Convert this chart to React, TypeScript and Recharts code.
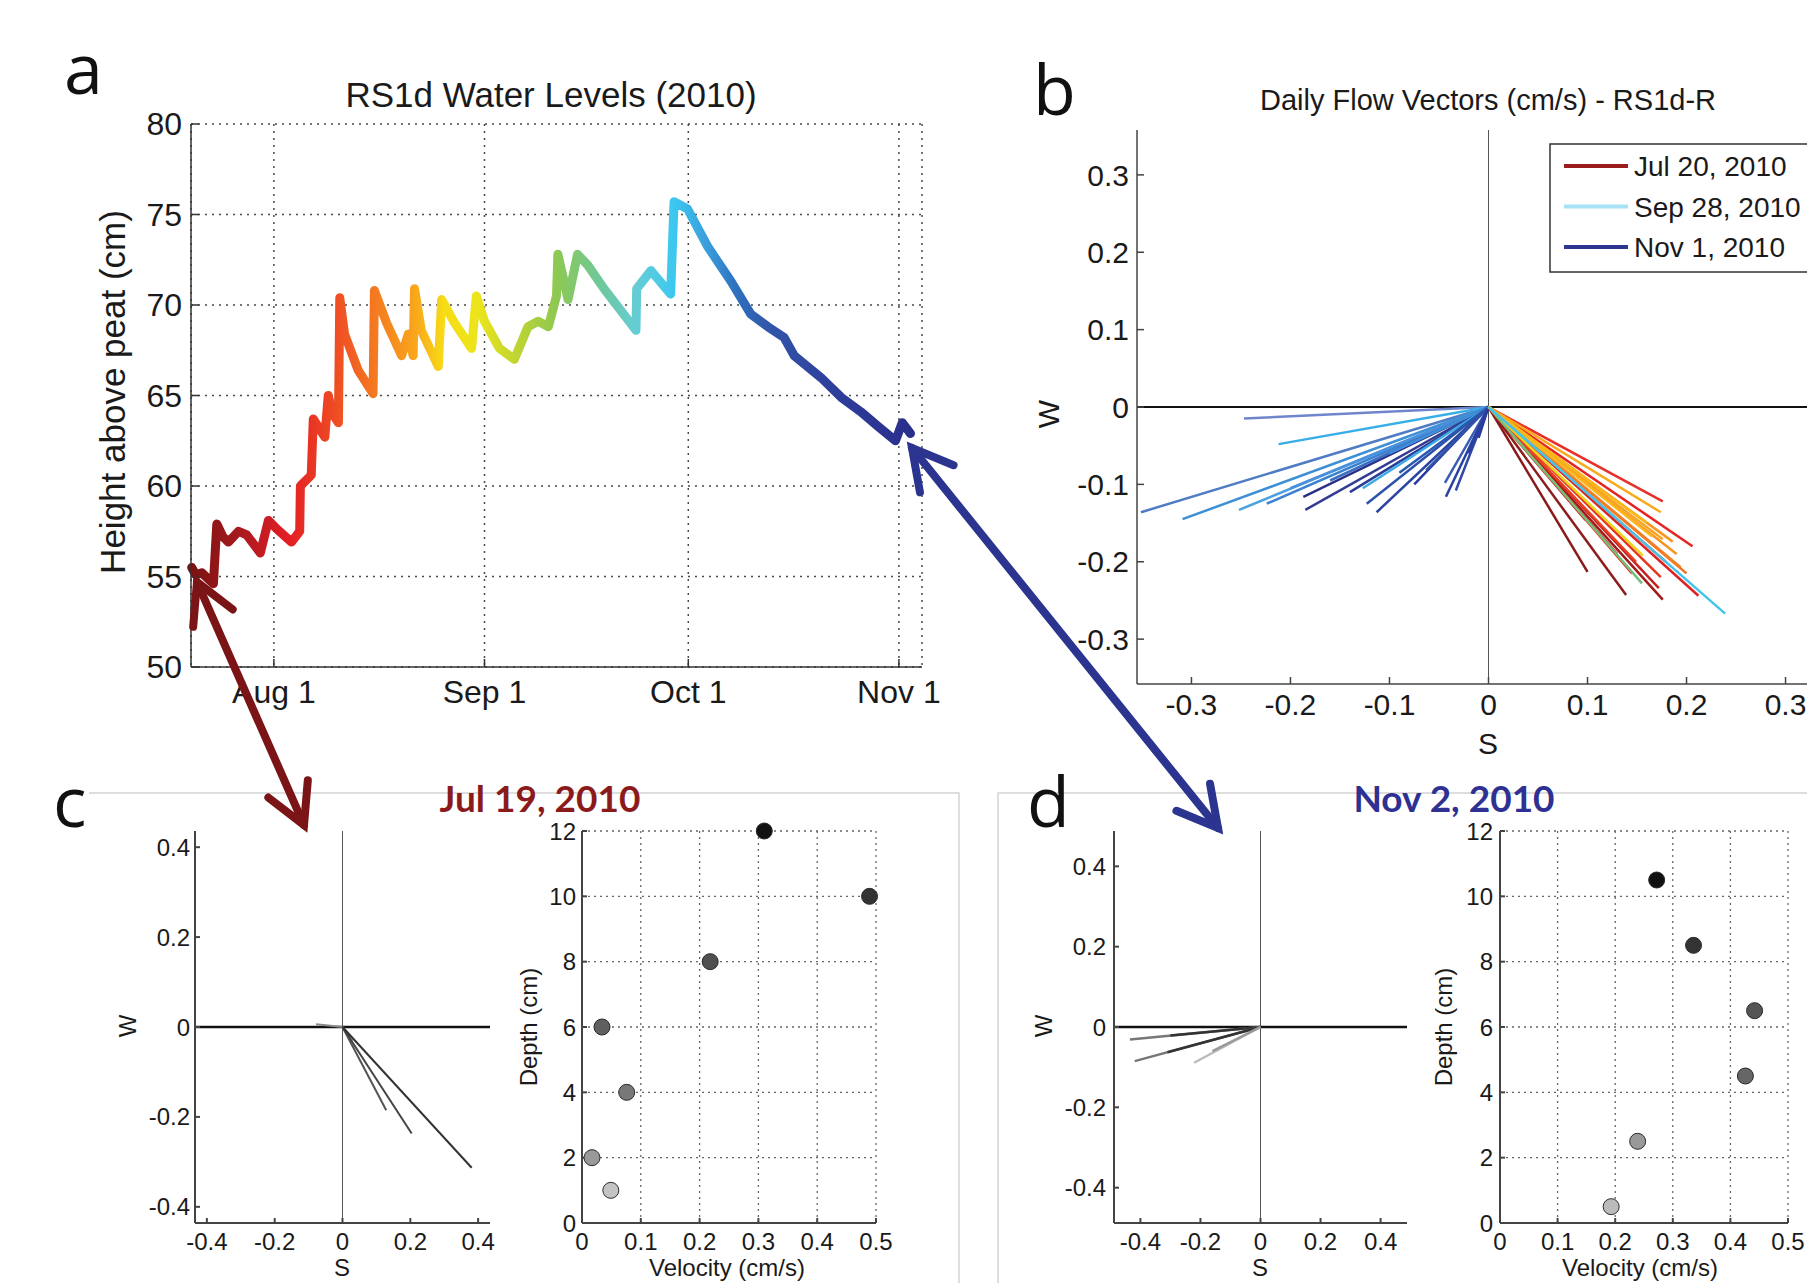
import React from 'react';
import {
  LineChart,
  Line,
  ScatterChart,
  Scatter,
  XAxis,
  YAxis,
  CartesianGrid,
  ReferenceLine,
  Cell,
} from 'recharts';

// ---- panel a: water level, days counted from Aug 1 ----
const levelDays = [
  -12.1, -11.5, -10.6, -8.9, -8.4, -7.5, -6.7, -5.2, -4.0, -2.0,
  -0.8, 0.5, 2.6, 3.8, 3.9, 5.5, 5.8, 7.0, 7.5, 8.0,
  8.6, 9.5, 9.7, 10.4, 12.4, 14.6, 14.8, 16.6, 18.8, 19.8,
  20.5, 20.7, 21.7, 24.2, 24.7, 26.6, 29.1, 29.8, 31.0, 33.2,
  35.4, 37.4, 38.9, 40.4, 41.6, 41.8, 42.6, 43.3, 44.7, 46.2,
  48.6, 53.3, 53.4, 55.5, 58.4, 58.9, 60.9, 63.9, 67.3, 70.2,
  72.7, 75.1, 76.6, 80.5, 83.5, 86.4, 88.9, 91.5, 92.5, 93.7,
];
const levelValues = [
  55.5, 55.1, 55.2, 54.6, 57.9, 57.2, 56.9, 57.5, 57.3, 56.3,
  58.1, 57.6, 56.9, 57.5, 60.0, 60.6, 63.7, 63.0, 62.7, 65.0,
  64.0, 63.5, 70.4, 68.4, 66.4, 65.1, 70.8, 69.0, 67.2, 68.4,
  67.2, 70.9, 68.6, 66.6, 70.3, 69.0, 67.6, 70.5, 69.1, 67.6,
  67.0, 68.8, 69.1, 68.8, 70.5, 72.8, 71.5, 70.3, 72.8, 72.2,
  70.9, 68.6, 70.9, 71.9, 70.6, 75.7, 75.3, 73.2, 71.3, 69.5,
  68.8, 68.2, 67.2, 66.0, 64.9, 64.1, 63.3, 62.5, 63.5, 62.9,
];
const monthTicks = [0, 31, 61, 92];
const monthLabels = ['Aug 1', 'Sep 1', 'Oct 1', 'Nov 1'];
const levelTicks = [50, 55, 60, 65, 70, 75, 80];

// colour of the trace by date (jet, reversed)
const jetStopDays = [-12.1, -5, 2, 9, 14.8, 20.7, 25, 30, 35, 41.8, 48.6, 53.3, 58.9, 64, 68, 73, 82, 93.7];
const jetStopColors = [
  '#7a1212', '#a81a1e', '#e31e25', '#ef4b24', '#f47920', '#f9a51b', '#f7dc16', '#ece51b', '#c5d62e',
  '#8cc853', '#6dc8a2', '#66cdd4', '#3cc8f0', '#3a9bda', '#2f70bf', '#3155a8', '#2e3f9c', '#2a2e8c',
];

// ---- panel b: daily flow vectors ----
const flowS = [
  -0.351, -0.309, -0.252, -0.224, -0.247, -0.212, -0.2, -0.187, -0.185, -0.16, -0.14, -0.127,
  -0.123, -0.113, -0.1, -0.09, -0.075, -0.063, -0.044, -0.043, -0.033, -0.02, -0.01,
  0.1, 0.139, 0.176, 0.098, 0.13, 0.172, 0.145, 0.174, 0.149, 0.212, 0.206, 0.176,
  0.179, 0.2, 0.194, 0.186, 0.19, 0.176, 0.165, 0.16, 0.174, 0.156, 0.155, 0.239,
];
const flowW = [
  -0.136, -0.145, -0.133, -0.125, -0.015, -0.048, -0.105, -0.116, -0.133, -0.095, -0.11, -0.105,
  -0.125, -0.136, -0.06, -0.085, -0.1, -0.082, -0.098, -0.116, -0.108, -0.06, -0.04,
  -0.213, -0.243, -0.249, -0.146, -0.19, -0.234, -0.215, -0.22, -0.2, -0.244, -0.18, -0.122,
  -0.2, -0.215, -0.207, -0.174, -0.19, -0.171, -0.167, -0.15, -0.136, -0.192, -0.228, -0.267,
];
const flowColors = [
  '#4f7cc4', '#3d8fd6', '#4aa0e0', '#3b82d0', '#6f86cc', '#38aee8', '#4a90da', '#2b2f86', '#343c92',
  '#3a6cc0', '#2b3c98', '#3caae2', '#2d52aa', '#2a46a0', '#3f8fd8', '#2a58b0', '#2838a0', '#3052aa',
  '#3a5cb4', '#2840a0', '#3048a8', '#2a40a0', '#2a3a9a',
  '#8a1a1a', '#8e1c1c', '#a01a1a', '#b81818', '#d82020', '#c81f1f', '#e0301c', '#e63620', '#e84020',
  '#de2020', '#e62222', '#e8302a', '#f05020', '#f07020', '#f28022', '#f89420', '#f6961c', '#f8a420',
  '#fab820', '#f8b818', '#f8aa1c', '#f0d41c', '#74c07a', '#44c4ec',
];
const flowTicks = [-0.3, -0.2, -0.1, 0, 0.1, 0.2, 0.3];
const legendDates = ['Jul 20, 2010', 'Sep 28, 2010', 'Nov 1, 2010'];
const legendColors = ['#9b1c1c', '#a8e2f6', '#2e3590'];

// ---- panel c: Jul 19 ----
const julS = [-0.078, 0.03, 0.129, 0.204, 0.381];
const julW = [0.006, -0.03, -0.185, -0.237, -0.313];
const julShades = ['#888', '#aaa', '#555', '#444', '#333'];
const julVelocity = [0.31, 0.489, 0.218, 0.034, 0.076, 0.017, 0.049];
const julDepth = [12, 10, 8, 6, 4, 2, 1];
const julDotShades = ['#111', '#333', '#505050', '#606060', '#787878', '#999', '#c4c4c4'];

// ---- panel d: Nov 2 ----
const novS = [-0.435, -0.3, -0.419, -0.31, -0.221, -0.16];
const novW = [-0.031, -0.021, -0.085, -0.063, -0.089, -0.06];
const novShades = ['#777', '#333', '#777', '#333', '#bbb', '#999'];
const novVelocity = [0.272, 0.336, 0.442, 0.426, 0.239, 0.193];
const novDepth = [10.5, 8.5, 6.5, 4.5, 2.5, 0.5];
const novDotShades = ['#111', '#333', '#555', '#666', '#999', '#bbb'];

const smallTicks = [-0.4, -0.2, 0, 0.2, 0.4];
const velocityTicks = [0, 0.1, 0.2, 0.3, 0.4, 0.5];
const depthTicks = [0, 2, 4, 6, 8, 10, 12];

const FONT = '"Liberation Sans", Arial, Helvetica, sans-serif';
const INK = '#1a1a1a';
// room round each plot so edge tick labels are not clipped
const margin = { top: 24, right: 44, bottom: 4, left: 4 };

type Box = { l: number; t: number; r: number; b: number };

function frame(box: Box, yW: number, xH: number) {
  const width = box.r - box.l + yW + margin.left + margin.right;
  const height = box.b - box.t + xH + margin.top + margin.bottom;
  return {
    width,
    height,
    style: {
      position: 'absolute' as const,
      left: box.l - yW - margin.left,
      top: box.t - margin.top,
      width,
      height,
    },
  };
}

const noMark = () => <g />;

function WaterLevelPanel() {
  const box = { l: 191, t: 124, r: 922, b: 667 };
  const f = frame(box, 70, 55);
  const data = levelDays.map((day, i) => ({ day, level: levelValues[i] }));
  const first = levelDays[0];
  const last = levelDays[levelDays.length - 1];
  const xDomain = [-12.2, 95.4];
  const tick = { fontSize: 32, fill: INK, fontFamily: FONT };
  const edge = { stroke: '#333', strokeWidth: 1.5 };
  return (
    <div style={f.style}>
      <LineChart width={f.width} height={f.height} data={data} margin={margin}>
        <defs>
          <linearGradient id="jetTime" x1="0" y1="0" x2="1" y2="0">
            {jetStopDays.map((d, i) => (
              <stop key={i} offset={(d - first) / (last - first)} stopColor={jetStopColors[i]} />
            ))}
          </linearGradient>
        </defs>
        <CartesianGrid stroke="#4a4a4a" strokeDasharray="2 5" strokeWidth={1.5} />
        <XAxis type="number" dataKey="day" domain={xDomain} ticks={monthTicks} interval={0}
          tickFormatter={(v) => monthLabels[monthTicks.indexOf(v)]}
          tick={tick} tickSize={-8} tickMargin={21} axisLine={edge} tickLine={edge} height={55} />
        <XAxis xAxisId="top" orientation="top" type="number" domain={xDomain} ticks={monthTicks}
          interval={0} tick={false} tickSize={-8} axisLine={edge} tickLine={edge} height={0} />
        <YAxis type="number" domain={[50, 80]} ticks={levelTicks} interval={0} width={70}
          tick={tick} tickSize={-8} tickMargin={17} axisLine={edge} tickLine={edge} />
        <YAxis yAxisId="right" orientation="right" type="number" domain={[50, 80]} ticks={levelTicks}
          interval={0} width={0} tick={false} tickSize={-8} axisLine={edge} tickLine={edge} />
        <Line type="linear" dataKey="level" stroke="url(#jetTime)" strokeWidth={9}
          strokeLinejoin="round" strokeLinecap="round" dot={false} isAnimationActive={false} />
      </LineChart>
    </div>
  );
}

interface VectorProps {
  box: Box;
  yW: number;
  xH: number;
  xDomain: number[];
  yDomain: number[];
  ticksX: number[];
  ticksY: number[];
  s: number[];
  w: number[];
  colors: string[];
  lineWidth: number;
  fontSize: number;
  tickLen: number;
  labelDrop: number;
  labelGap: number;
  edgeWidth: number;
  zeroWidth: number;
}

function VectorPanel(p: VectorProps) {
  const f = frame(p.box, p.yW, p.xH);
  const tick = { fontSize: p.fontSize, fill: INK, fontFamily: FONT };
  const edge = { stroke: '#444', strokeWidth: p.edgeWidth };
  return (
    <div style={f.style}>
      <ScatterChart width={f.width} height={f.height} margin={margin}>
        <XAxis type="number" dataKey="s" domain={p.xDomain} ticks={p.ticksX} interval={0} tick={tick}
          tickSize={-p.tickLen} tickMargin={p.tickLen + p.labelDrop} axisLine={edge} tickLine={edge} height={p.xH} />
        <XAxis xAxisId="top" orientation="top" type="number" domain={p.xDomain} ticks={p.ticksX}
          interval={0} tick={false} tickSize={-p.tickLen} axisLine={edge} tickLine={edge} height={0} />
        <YAxis type="number" dataKey="w" domain={p.yDomain} ticks={p.ticksY} interval={0} tick={tick}
          tickSize={-p.tickLen} tickMargin={p.tickLen + p.labelGap} axisLine={edge} tickLine={edge} width={p.yW} />
        <YAxis yAxisId="right" orientation="right" type="number" domain={p.yDomain} ticks={p.ticksY}
          interval={0} tick={false} tickSize={-p.tickLen} axisLine={edge} tickLine={edge} width={0} />
        <ReferenceLine x={0} stroke="#555" strokeWidth={1} />
        <ReferenceLine y={0} stroke="#111" strokeWidth={p.zeroWidth} />
        {p.s.map((sv, i) => (
          <Scatter key={i} data={[{ s: 0, w: 0 }, { s: sv, w: p.w[i] }]}
            line={{ stroke: p.colors[i], strokeWidth: p.lineWidth }} shape={noMark}
            legendType="none" isAnimationActive={false} />
        ))}
      </ScatterChart>
    </div>
  );
}

interface DepthProps {
  box: Box;
  yW: number;
  velocity: number[];
  depth: number[];
  shades: string[];
  labelGap: number;
}

function DepthPanel(p: DepthProps) {
  const f = frame(p.box, p.yW, 40);
  const tick = { fontSize: 24, fill: INK, fontFamily: FONT };
  const edge = { stroke: '#444', strokeWidth: 2 };
  const data = p.velocity.map((v, i) => ({ v, d: p.depth[i] }));
  const dot = (q: any) => (
    <circle cx={q.cx} cy={q.cy} r={8} fill={q.fill} stroke="#2a2a2a" strokeWidth={1} />
  );
  return (
    <div style={f.style}>
      <ScatterChart width={f.width} height={f.height} margin={margin}>
        <CartesianGrid stroke="#666" strokeDasharray="2 4" strokeWidth={1.3} />
        <XAxis type="number" dataKey="v" domain={[0, 0.5]} ticks={velocityTicks} interval={0} tick={tick}
          tickSize={-5} tickMargin={15} axisLine={edge} tickLine={edge} height={40} />
        <XAxis xAxisId="top" orientation="top" type="number" domain={[0, 0.5]} ticks={velocityTicks}
          interval={0} tick={false} tickSize={-5} axisLine={edge} tickLine={edge} height={0} />
        <YAxis type="number" dataKey="d" domain={[0, 12]} ticks={depthTicks} interval={0} tick={tick}
          tickSize={-5} tickMargin={5 + p.labelGap} axisLine={edge} tickLine={edge} width={p.yW} />
        <YAxis yAxisId="right" orientation="right" type="number" domain={[0, 12]} ticks={depthTicks}
          interval={0} tick={false} tickSize={-5} axisLine={edge} tickLine={edge} width={0} />
        <Scatter data={data} shape={dot} legendType="none" isAnimationActive={false}>
          {data.map((_, i) => (
            <Cell key={i} fill={p.shades[i]} />
          ))}
        </Scatter>
      </ScatterChart>
    </div>
  );
}

function chevron(tx: number, ty: number, fx: number, fy: number) {
  const a = Math.atan2(fy - ty, fx - tx);
  const len = 45;
  const spread = 0.5;
  const p1 = [tx + len * Math.cos(a + spread), ty + len * Math.sin(a + spread)];
  const p2 = [tx + len * Math.cos(a - spread), ty + len * Math.sin(a - spread)];
  return `${p1[0]},${p1[1]} ${tx},${ty} ${p2[0]},${p2[1]}`;
}

function Arrow({ x1, y1, x2, y2, color }: { x1: number; y1: number; x2: number; y2: number; color: string }) {
  return (
    <g stroke={color} strokeWidth={8} fill="none" strokeLinecap="round" strokeLinejoin="miter">
      <line x1={x1} y1={y1} x2={x2} y2={y2} />
      <polyline points={chevron(x1, y1, x2, y2)} />
      <polyline points={chevron(x2, y2, x1, y1)} />
    </g>
  );
}

function Annotations() {
  const letter = { fontFamily: '"Open Sans", "Noto Sans", sans-serif', fontSize: 70, fill: '#111' };
  const small = { fontFamily: FONT, fontSize: 24, fill: INK };
  return (
    <svg width={1807} height={1283} style={{ position: 'absolute', left: 0, top: 0, pointerEvents: 'none' }}>
      {/* light frames around c and d */}
      <polyline points="89,793 959,793 959,1283" fill="none" stroke="#d4d4d4" strokeWidth={1.5} />
      <polyline points="998,1283 998,793 1807,793" fill="none" stroke="#d4d4d4" strokeWidth={1.5} />

      <text x={64} y={94} {...letter}>a</text>
      <text x={1033} y={115} {...letter}>b</text>
      <text x={53} y={827} {...letter}>c</text>
      <text x={1027} y={827} {...letter}>d</text>

      <text x={551} y={107} textAnchor="middle" fontFamily={FONT} fontSize={35} fill={INK}>
        RS1d Water Levels (2010)
      </text>
      <text x={112} y={392} textAnchor="middle" dominantBaseline="central" transform="rotate(-90 112 392)"
        fontFamily={FONT} fontSize={35} fill={INK}>
        Height above peat (cm)
      </text>

      <text x={1488} y={110} textAnchor="middle" fontFamily={FONT} fontSize={29} fill={INK}>
        Daily Flow Vectors (cm/s) - RS1d-R
      </text>
      <text x={1048} y={414} textAnchor="middle" dominantBaseline="central" transform="rotate(-90 1048 414)"
        fontFamily={FONT} fontSize={30} fill={INK}>W</text>
      <text x={1488} y={743} textAnchor="middle" dominantBaseline="central" fontFamily={FONT} fontSize={30} fill={INK}>S</text>

      <rect x={1550} y={144} width={300} height={128} fill="#fff" stroke="#333" strokeWidth={1.5} />
      {legendDates.map((d, i) => (
        <g key={d}>
          <line x1={1564} x2={1628} y1={166 + i * 40.5} y2={166 + i * 40.5} stroke={legendColors[i]} strokeWidth={4} />
          <text x={1634} y={176 + i * 40.5} fontFamily={FONT} fontSize={28} fill={INK}>{d}</text>
        </g>
      ))}

      <text x={540} y={812} textAnchor="middle" fontFamily="Lato, sans-serif" fontWeight={700} fontSize={37} fill="#8b1a1a">
        Jul 19, 2010
      </text>
      <text x={1454} y={812} textAnchor="middle" fontFamily="Lato, sans-serif" fontWeight={700} fontSize={37} fill="#2e3192">
        Nov 2, 2010
      </text>

      <text x={127} y={1026} textAnchor="middle" dominantBaseline="central" transform="rotate(-90 127 1026)" {...small}>W</text>
      <text x={342} y={1276} textAnchor="middle" {...small}>S</text>
      <text x={528} y={1027} textAnchor="middle" dominantBaseline="central" transform="rotate(-90 528 1027)" {...small}>Depth (cm)</text>
      <text x={727} y={1276} textAnchor="middle" {...small}>Velocity (cm/s)</text>

      <text x={1043} y={1026} textAnchor="middle" dominantBaseline="central" transform="rotate(-90 1043 1026)" {...small}>W</text>
      <text x={1260} y={1276} textAnchor="middle" {...small}>S</text>
      <text x={1443} y={1027} textAnchor="middle" dominantBaseline="central" transform="rotate(-90 1443 1027)" {...small}>Depth (cm)</text>
      <text x={1640} y={1276} textAnchor="middle" {...small}>Velocity (cm/s)</text>

      <Arrow x1={197} y1={582} x2={304} y2={825} color="#7b1416" />
      <Arrow x1={912} y1={448} x2={1218} y2={828} color="#2b3590" />
    </svg>
  );
}

export default function App() {
  return (
    <div style={{ position: 'absolute', left: 0, top: 0, width: 1807, height: 1283, overflow: 'hidden', background: '#fff', fontFamily: FONT }}>
      <WaterLevelPanel />
      <VectorPanel box={{ l: 1137, t: 130, r: 1840, b: 684 }} yW={75} xH={50}
        xDomain={[-0.355, 0.355]} yDomain={[-0.358, 0.358]} ticksX={flowTicks} ticksY={flowTicks}
        s={flowS} w={flowW} colors={flowColors} lineWidth={2.5} fontSize={30} tickLen={7}
        labelDrop={10} labelGap={8} edgeWidth={1.5} zeroWidth={2} />
      <VectorPanel box={{ l: 195, t: 831, r: 490, b: 1223 }} yW={60} xH={40}
        xDomain={[-0.435, 0.435]} yDomain={[-0.436, 0.436]} ticksX={smallTicks} ticksY={smallTicks}
        s={julS} w={julW} colors={julShades} lineWidth={2} fontSize={24} tickLen={5}
        labelDrop={10} labelGap={5} edgeWidth={2} zeroWidth={2.5} />
      <DepthPanel box={{ l: 582, t: 831, r: 876, b: 1223 }} yW={45}
        velocity={julVelocity} depth={julDepth} shades={julDotShades} labelGap={6} />
      <VectorPanel box={{ l: 1114, t: 831, r: 1407, b: 1223 }} yW={60} xH={40}
        xDomain={[-0.488, 0.488]} yDomain={[-0.488, 0.488]} ticksX={smallTicks} ticksY={smallTicks}
        s={novS} w={novW} colors={novShades} lineWidth={2.5} fontSize={24} tickLen={5}
        labelDrop={10} labelGap={8} edgeWidth={2} zeroWidth={2.5} />
      <DepthPanel box={{ l: 1500, t: 831, r: 1788, b: 1223 }} yW={45}
        velocity={novVelocity} depth={novDepth} shades={novDotShades} labelGap={7} />
      <Annotations />
    </div>
  );
}
